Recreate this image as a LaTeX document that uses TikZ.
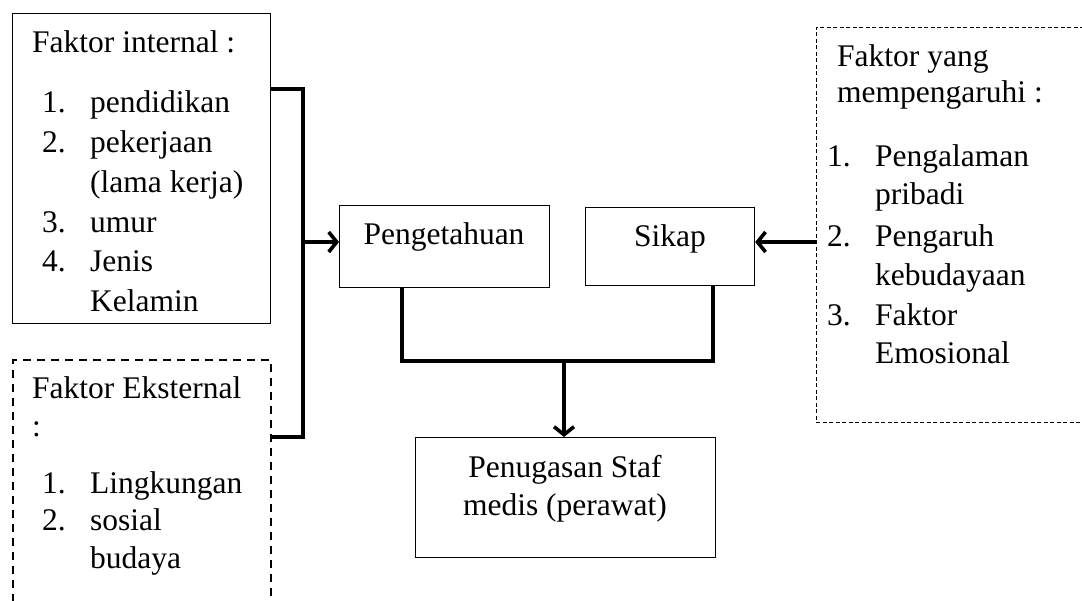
\documentclass[tikz,border=0pt]{standalone}
\usepackage{fontspec}
\setmainfont{Liberation Serif}
\usetikzlibrary{arrows.meta}
\begin{document}
\begin{tikzpicture}[x=1bp,y=-1bp,
  txt/.style={anchor=base west,inner sep=0pt,font=\fontsize{31.5bp}{40bp}\selectfont},
  ctxt/.style={anchor=base,inner sep=0pt,font=\fontsize{31.5bp}{40bp}\selectfont},
  box/.style={draw,line width=1.2bp,anchor=north west,inner sep=0pt},
  dbox/.style={draw,line width=2.2bp,dash pattern=on 8bp off 6bp,anchor=north west,inner sep=0pt},
  tbox/.style={draw,line width=0.9bp,dash pattern=on 4bp off 2.5bp,anchor=north west,inner sep=0pt},
  conn/.style={line width=3.6bp},
  arr/.style={line width=3.6bp,-{Straight Barb[length=8bp,width=20bp]}}]
\useasboundingbox (0,0) rectangle (1082,601);
\clip (0,0) rectangle (1082,601);
\fill[white] (0,0) rectangle (1082,601);
% boxes
\node[box,minimum width=258bp,minimum height=310bp] (fi) at (12,13) {};
\node[dbox,minimum width=258bp,minimum height=300bp] (fe) at (12,359) {};
\node[tbox,minimum width=320bp,minimum height=395bp] (fy) at (816,27) {};
\node[box,minimum width=210bp,minimum height=82bp] (pg) at (339,205) {};
\node[box,minimum width=169bp,minimum height=78bp] (sk) at (585,207) {};
\node[box,minimum width=300bp,minimum height=120bp] (pn) at (415,437) {};
% texts box 1
\node[txt] (fi0) at (32,53) {Faktor internal :};
\node[txt] (fi1n) at (42,113) {1.};
\node[txt] (fi1) at (90,113) {pendidikan};
\node[txt] (fi2n) at (42,153) {2.};
\node[txt] (fi2) at (90,153) {pekerjaan};
\node[txt] (fi2b) at (90,193) {(lama kerja)};
\node[txt] (fi3n) at (42,233) {3.};
\node[txt] (fi3) at (90,233) {umur};
\node[txt] (fi4n) at (42,272) {4.};
\node[txt] (fi4) at (90,272) {Jenis};
\node[txt] (fi4b) at (90,312) {Kelamin};
% texts box 2
\node[txt] (fe0) at (32,398) {Faktor Eksternal};
\node[txt] (fe0b) at (32,436) {:};
\node[txt] (fe1n) at (42,493) {1.};
\node[txt] (fe1) at (90,493) {Lingkungan};
\node[txt] (fe2n) at (42,530) {2.};
\node[txt] (fe2) at (90,530) {sosial};
\node[txt] (fe2b) at (90,568) {budaya};
% texts box 3
\node[txt] (fy0) at (837,67) {Faktor yang};
\node[txt] (fy0b) at (837,103) {mempengaruhi :};
\node[txt] (fy1n) at (827,167) {1.};
\node[txt] (fy1) at (875,167) {Pengalaman};
\node[txt] (fy1b) at (875,205) {pribadi};
\node[txt] (fy2n) at (827,247) {2.};
\node[txt] (fy2) at (875,247) {Pengaruh};
\node[txt] (fy2b) at (875,286) {kebudayaan};
\node[txt] (fy3n) at (827,325) {3.};
\node[txt] (fy3) at (875,325) {Faktor};
\node[txt] (fy3b) at (875,363) {Emosional};
% center texts
\node[ctxt] (pgt) at (444,245) {Pengetahuan};
\node[ctxt] (skt) at (670,247) {Sikap};
\node[ctxt] (pnt1) at (565,477) {Penugasan Staf};
\node[ctxt] (pnt2) at (565,515) {medis (perawat)};
% connectors
\coordinate (b1) at (270,89);
\coordinate (b2) at (303,89);
\coordinate (b3) at (303,437);
\coordinate (b4) at (270,437);
\coordinate (bm) at (303,242);
\draw[conn,line join=miter] (b1) -- (b2) -- (b3) -- (b4);
\draw[arr] (bm) -- (pg.west |- bm);
\coordinate (sa) at (816,242);
\draw[arr] (sa) -- (sk.east |- sa);
\coordinate (p1) at (402,287);
\coordinate (p2) at (402,361);
\coordinate (s1) at (713,285);
\coordinate (s2) at (713,361);
\coordinate (mid) at (564,361);
\draw[conn,line join=miter] (p1) -- (p2) -- (s2) -- (s1);
\draw[arr] (mid) -- (mid |- pn.north);
\end{tikzpicture}
\end{document}
